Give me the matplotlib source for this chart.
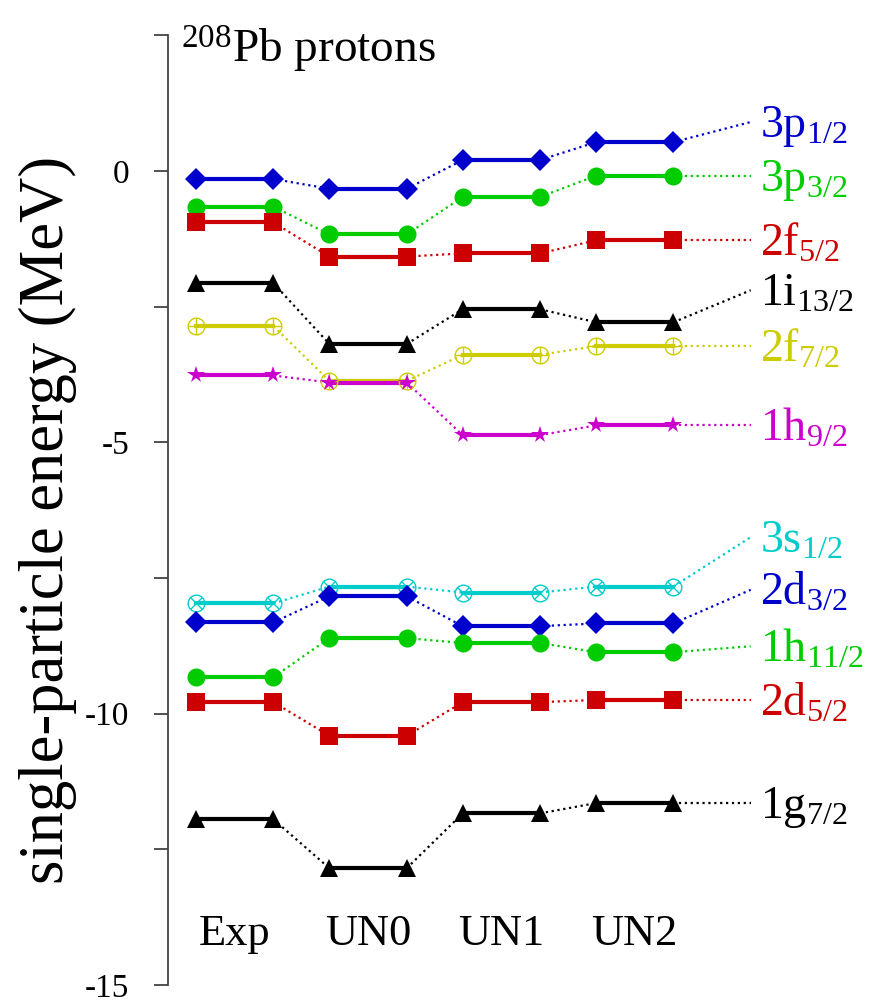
import numpy as np
import matplotlib
matplotlib.use('Agg')
from matplotlib import pyplot as plt

plt.rcParams['font.family'] = ['Liberation Serif', 'DejaVu Serif']
plt.rcParams['mathtext.fontset'] = 'custom'
plt.rcParams['mathtext.rm'] = 'Liberation Serif'
plt.rcParams['mathtext.it'] = 'Liberation Serif:italic'

models = ['Exp', 'UN0', 'UN1', 'UN2']

# single-particle energies (MeV) per state: Exp, UN0, UN1, UN2
p3_12 = [-0.15, -0.33, 0.20, 0.53]
p3_32 = [-0.66, -1.17, -0.48, -0.09]
f2_52 = [-0.95, -1.58, -1.52, -1.28]
i1_132 = [-2.07, -3.19, -2.55, -2.79]
f2_72 = [-2.86, -3.87, -3.39, -3.23]
h1_92 = [-3.77, -3.90, -4.87, -4.69]
s3_12 = [-7.97, -7.66, -7.77, -7.66]
d2_32 = [-8.32, -7.84, -8.39, -8.34]
h1_112 = [-9.33, -8.61, -8.70, -8.87]
d2_52 = [-9.79, -10.41, -9.79, -9.75]
g1_72 = [-11.95, -12.85, -11.84, -11.65]

labels = ['3p$_{\\mathrm{1/2}}$', '3p$_{\\mathrm{3/2}}$', '2f$_{\\mathrm{5/2}}$',
          '1i$_{\\mathrm{13/2}}$', '2f$_{\\mathrm{7/2}}$', '1h$_{\\mathrm{9/2}}$',
          '3s$_{\\mathrm{1/2}}$', '2d$_{\\mathrm{3/2}}$', '1h$_{\\mathrm{11/2}}$',
          '2d$_{\\mathrm{5/2}}$', '1g$_{\\mathrm{7/2}}$']
label_y = [0.9, -0.09, -1.28, -2.2, -3.23, -4.69, -6.75, -7.72, -8.76, -9.75, -11.65]

states = [p3_12, p3_32, f2_52, i1_132, f2_72, h1_92, s3_12, d2_32, h1_112, d2_52, g1_72]

blue, green, red, yellow, magenta, cyan = '#0000cc', '#00cc00', '#cc0000', '#cccc00', '#cc00cc', '#00cccc'
styles = [
    (blue, 'D'), (green, 'o'), (red, 's'), ('black', '^'), (yellow, 'oplus'), (magenta, '*'),
    (cyan, 'otimes'), (blue, 'D'), (green, 'o'), (red, 's'), ('black', '^'),
]

half = 0.29
line_end = 3.87

fig = plt.figure(figsize=(8.8, 10.06), dpi=100)
ax = fig.add_axes([0.191, 0.021, 0.809, 0.944])


def draw_marker(x, y, color, m):
    if m == 'oplus':
        ax.plot(x, y, 'o', ms=12, mfc='none', mec=color, mew=1.0, zorder=4)
        ax.plot(x, y, '+', ms=12, mec=color, mew=1.0, zorder=4)
    elif m == 'otimes':
        ax.plot(x, y, 'o', ms=12, mfc='none', mec=color, mew=1.0, zorder=4)
        ax.plot(x, y, 'x', ms=8.5, mec=color, mew=1.0, zorder=4)
    else:
        size = {'D': 11.5, 'o': 13, 's': 12.5, '^': 12.5, '*': 13}[m]
        ax.plot(x, y, m, ms=size, color=color, mew=0, zorder=4)


for vals, (color, m), lab, ly in zip(states, styles, labels, label_y):
    x = np.arange(len(vals))
    for i, e in enumerate(vals):
        ax.plot([x[i] - half, x[i] + half], [e, e], '-', color=color, lw=3, zorder=3)
        draw_marker([x[i] - half, x[i] + half], [e, e], color, m)
        if i < len(vals) - 1:
            ax.plot([x[i] + half, x[i + 1] - half], [e, vals[i + 1]], ':', color=color, lw=1.6, zorder=2)
    ax.plot([x[-1] + half, line_end], [vals[-1], ly], ':', color=color, lw=1.6, zorder=2)
    ax.annotate(lab, (line_end, ly), xytext=(7, -11), textcoords='offset points',
                va='baseline', ha='left', fontsize=33, color=color, annotation_clip=False)

for i, name in enumerate(models):
    ax.text(i, -14.07, name, ha='center', va='center', fontsize=32)

ax.text(-0.4, 2.0, '$^{\\mathrm{208}}$Pb protons', ha='left', va='baseline', fontsize=34, clip_on=False)

ax.set_xlim(-0.5, 4.84)
ax.set_ylim(-15, 2.5)
ticks = np.arange(-15, 2.6, 2.5)
ax.set_yticks(ticks)
ax.set_yticklabels(['%d' % t if t % 5 == 0 else '' for t in ticks], fontsize=24)
ax.tick_params(axis='y', direction='out', length=10, width=1.3, color='#444444', pad=18)
ax.set_xticks([])
for side in ['top', 'right', 'bottom']:
    ax.spines[side].set_visible(False)
ax.spines['left'].set_color('#444444')
ax.spines['left'].set_linewidth(1.3)

fig.text(0.055, 0.483, 'single-particle energy (MeV)', rotation=90, ha='center', va='center', fontsize=45)

plt.savefig('out.png', dpi=100)
